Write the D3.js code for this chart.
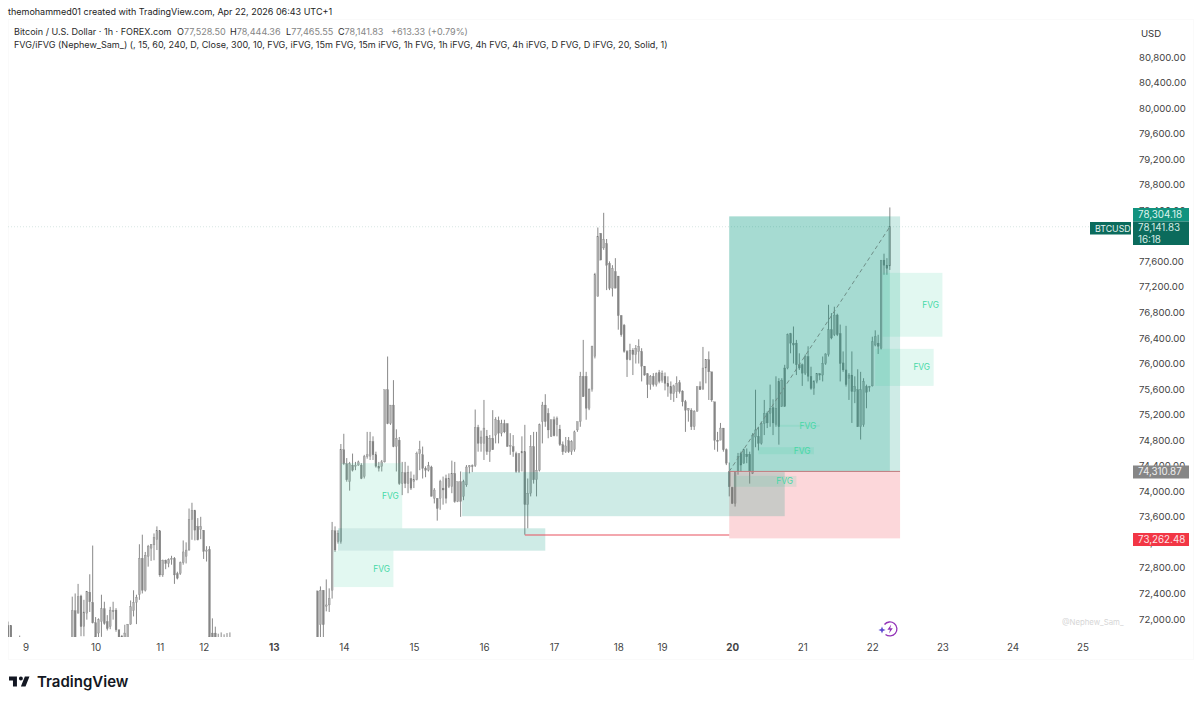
<![CDATA[<!DOCTYPE html>
<html>
<head>
<meta charset="utf-8">
<script src="https://cdn.jsdelivr.net/npm/d3@7"></script>
<style>
  html, body { margin: 0; padding: 0; background: #fff; }
  svg { display: block; }
  text { font-family: Inter, "Noto Sans", sans-serif; }
</style>
</head>
<body>
<div id="chart"></div>
<script>
// bar numbers: hourly bars, weekends are shorter. Bars under the chart's floor were left out.
const barIndex = [0, 1, 4, ...d3.range(22, 77), ...d3.range(106, 303)];

const opens = [
  71900,71900,71600,
  // 22
  71500,72130,72090,72360,71880,72090,72420,72260,71940,71780,
  71960,72160,71960,71880,72130,72140,71830,71730,71550,71600,
  71920,72130,72260,72380,72950,72450,72980,73110,73160,73240,
  73380,72690,72920,72870,72930,72950,72710,72710,72880,72980,
  73080,73560,73700,73450,73400,73390,73060,73090,71780,71780,
  71600,71600,71600,71600,71600,
  // 106
  72440,71910,72450,72200,72220,72450,73380,73210,73210,74650,
  74430,74150,74410,74390,74410,74410,74230,74540,74550,74780,
  74570,74390,74390,74460,75590,75060,75350,74700,74800,74120,
  74290,74120,74200,74150,74180,74590,74570,74360,74330,74380,
  73890,73890,73890,74050,74200,74070,74070,74280,73840,74150,
  73920,74100,74380,74400,74400,75000,74750,74750,74860,74620,
  74830,74880,75110,74910,75060,75060,74700,74700,74590,74310,
  74600,74620,73790,73970,74700,74180,74330,
  // 183
  75090,75350,75220,74860,75120,75040,74970,74730,74620,74790,
  74620,74650,74960,75090,75800,75800,75300,75600,76110,77050,
  78040,77810,77880,77570,77180,77440,77370,76750,76600,76190,
  76060,76210,76140,76190,76190,75960,75840,75670,75800,75670,
  75860,75740,75800,75690,75640,75530,75560,75700,75570,75400,
  75270,75270,75010,75250,75640,75600,75930,76060,75870,75400,
  74800,74800,74990,74650,74310,74060,73810,74310,74590,74440,
  74580,74580,74280,74850,74860,74750,75060,75220,75220,75310,
  75050,75720,75330,75930,75930,76470,76320,76320,75980,75980,
  75850,76110,75800,75610,75720,75840,75820,76000,76140,76530,
  76450,76760,76470,76010,75900,75770,75820,75560,75590,75010,
  75040,75640,75640,75650,76290,76320,76240,77620,77540,77528.5
];

const highs = [
  71960,71900,71740,
  // 22
  72350,72400,72550,72380,72300,72440,72700,73150,72030,72010,
  72380,72270,72060,72190,72270,72170,71830,71750,71910,71920,
  72290,72450,72380,73170,73320,73050,73160,73170,73340,73450,
  73380,72930,72930,72950,72990,72970,72740,72900,73230,73200,
  73730,73820,73710,73580,73600,73390,73140,73140,72010,71880,
  71770,71790,71760,71780,71790,
  // 106
  72440,72510,72450,72620,72480,73520,73450,73390,74740,74900,
  74520,74460,74590,74460,74480,74440,74570,74930,74930,74860,
  74620,74460,74490,75590,76110,75350,75740,74970,74850,74460,
  74460,74400,74310,74260,74620,74790,74700,74390,74460,74400,
  74050,73890,74180,74230,74260,74280,74480,74460,74150,74310,
  74180,74410,74410,74420,75280,75040,74950,75430,74960,74880,
  75270,75160,75170,75120,75120,75060,74910,74880,74620,74590,
  74860,75040,74200,74880,74930,74930,75060,
  // 183
  75400,75520,75300,75120,75170,75170,75040,74780,74850,74850,
  74800,74950,75090,75870,76370,75870,75610,76280,77420,78130,
  78040,78360,77950,77600,77540,77650,77370,76760,76620,76210,
  76310,76240,76290,76380,76240,75960,75850,75820,75850,75860,
  75900,75890,75860,75800,75720,75670,75800,75740,75580,75430,
  75300,75300,75270,75640,75720,76260,76070,76190,75870,75400,
  74930,75070,74990,74670,74450,74070,74310,74600,74620,74670,
  74670,74620,74910,75590,75010,75090,75430,75250,75670,75440,
  75800,75770,75770,75980,76470,76480,76580,76370,76160,76000,
  76140,76270,75950,75740,75850,75850,76110,76160,76920,76790,
  76890,76780,76610,76190,76590,75850,76190,75800,75910,75870,
  75770,75670,75650,76420,76520,76450,77620,77720,77650,78444.36
];

const lows = [
  71500,71500,71500,
  // 22
  71400,71400,72090,71730,71730,71990,72110,71930,71500,71710,
  71720,71910,71820,71840,71990,71800,71500,71500,71500,71500,
  71910,72040,71920,72300,72400,72430,72820,72910,72920,73080,
  72660,72660,72780,72810,72850,72550,72620,72690,72850,72870,
  73070,73240,73230,73230,73250,72940,72900,71500,71500,71500,
  71500,71500,71500,71500,71500,
  // 106
  71400,71500,71500,72120,72110,72320,73050,73180,73180,74410,
  74150,74010,74310,74330,74400,74190,74200,74510,74490,74490,
  74370,74310,74310,74450,75050,75040,74690,74310,74100,73940,
  74050,73970,74020,74050,74170,74330,74200,74220,74310,73920,
  73810,73540,73710,73790,73810,74050,73970,73820,73830,73600,
  73860,74070,74280,74300,74380,74620,74620,74490,74570,74460,
  74650,74750,74750,74860,74910,74700,74570,74540,74290,74290,
  74310,73320,73420,73920,74120,73920,74310,
  // 183
  74750,75010,74830,74850,74860,74860,74710,74570,74600,74600,
  74570,74620,74930,75010,75480,75120,75270,75560,76080,77050,
  77620,77780,77150,77150,77050,77180,76530,76420,76170,75790,
  76050,75820,76000,76000,75720,75810,75460,75590,75640,75640,
  75690,75700,75580,75480,75430,75400,75460,75530,75330,74930,
  75090,74960,74960,75250,75590,75590,75690,75430,75400,74650,
  74620,74800,74620,74410,73920,73800,73760,74260,74310,74430,
  74440,74120,74270,74690,74640,74730,74880,74990,75010,74880,
  75010,74730,75320,75320,75910,76160,76000,75820,75900,75650,
  75820,75720,75590,75510,75690,75740,75720,75980,76110,76380,
  76430,76430,75720,75870,75640,75430,75070,75380,75010,74810,
  75010,75300,75560,75640,76270,76150,76220,77390,77390,77465.55
];

const closes = [
  71600,71600,71650,
  // 22
  72130,71720,72350,71880,72110,72430,72270,71940,71720,71990,
  72160,71930,71850,72140,72120,71830,71720,71550,71780,71920,
  72190,72260,72340,72950,72450,73000,73140,73170,73280,73380,
  72690,72920,72870,72930,72950,72690,72640,72880,73050,73080,
  73560,73700,73390,73240,73450,73060,73080,71720,71650,71600,
  71650,71650,71650,71650,71650,
  // 106
  71500,72450,71910,72220,72320,73380,73080,73340,74650,74430,
  74180,74430,74330,74410,74460,74200,74540,74570,74780,74570,
  74390,74360,74460,75590,75060,75350,74700,74830,74120,74290,
  74120,74300,74050,74180,74590,74650,74360,74330,74400,73920,
  74020,73730,74150,74020,73890,74200,74280,73840,74150,73840,
  74150,74380,74400,74390,75000,74750,74850,74990,74620,74830,
  74650,75120,74910,75060,74930,74700,74720,74620,74310,74590,
  74620,73790,73970,74700,74180,74330,75040,
  // 183
  75350,75090,74960,75120,74870,75140,74730,74620,74710,74620,
  74780,74930,75090,75800,75480,75300,75600,76270,77390,77990,
  77620,77940,77540,77180,77490,77180,76750,76450,76190,76060,
  76210,76140,76240,76270,75960,75820,75670,75800,75670,75840,
  75720,75850,75690,75640,75530,75650,75690,75560,75400,75270,
  75300,75010,75250,75640,75590,75930,76060,75870,75430,74800,
  74780,74990,74650,74440,74070,73810,74310,74550,74410,74650,
  74540,74310,74880,74960,74750,75060,75220,75070,75300,75070,
  75300,75010,75740,75330,76450,76320,76290,75980,75930,75850,
  76110,75800,75610,75720,75840,75820,76000,76150,76530,76400,
  76760,76450,76000,75900,75670,75820,75560,75640,75010,75590,
  75720,75550,75640,76340,76420,76270,77620,77540,77490,78141.83
];

const dayBars = [6, 30, 52, 67, 91, 115, 139, 163, 187, 209, 224, 248, 272, 296, 320, 344, 368];
const dayLabels = ["9", "10", "11", "12", "13", "14", "15", "16", "17", "18", "19", "20", "21", "22", "23", "24", "25"];
const boldDays = ["13", "20"];

const priceTicks = d3.range(72000, 80801, 400);

// FVG zones: first bar, last bar, upper price, lower price
const fvgNames = ["A", "B", "E", "F", "G", "H", "I"];
const fvgStart = [114, 111.5, 248.5, 257, 264, 299.5, 297];
const fvgEnd = [135, 132, 270, 276, 278, 320, 317];
const fvgTop = [74440, 73070, 74240, 74690, 75040, 77420, 76230];
const fvgBottom = [73420, 72500, 74070, 74580, 75010, 76420, 75650];

// iFVG zones, darker teal without a label
const ifvgStart = [113, 155.5];
const ifvgEnd = [184, 266];
const ifvgTop = [73420, 74300];
const ifvgBottom = [73070, 73610];

// long position tool
const positionStart = 247;
const positionEnd = 305.5;
const positionBarNow = 302;
const targetPrice = 78304.18;
const entryPrice = 74310.87;
const stopPrice = 73262.48;
const lastPrice = 78141.83;

// red line from the low on the 16th to the position
const sweepStart = 177;
const sweepPrice = 73315;

const width = 1200;
const height = 704;

const x = d3.scaleLinear().domain([0, 368]).range([8, 1082.56]);
const y = d3.scaleLinear().domain([72000, 80800]).range([619, 57]);

const svg = d3.select("#chart").append("svg")
    .attr("width", width)
    .attr("height", height)
    .attr("viewBox", [0, 0, width, height]);

svg.append("defs").append("clipPath")
    .attr("id", "plot-clip")
  .append("rect")
    .attr("x", 8)
    .attr("y", 20)
    .attr("width", 1124)
    .attr("height", 617);

// faint panel frame
svg.append("rect")
    .attr("x", 8.5)
    .attr("y", 19.5)
    .attr("width", 1185)
    .attr("height", 640)
    .attr("fill", "none")
    .attr("stroke", "#fafafa");

const plot = svg.append("g").attr("clip-path", "url(#plot-clip)");

// last price line
plot.append("line")
    .attr("x1", 8)
    .attr("x2", 1132)
    .attr("y1", y(lastPrice))
    .attr("y2", y(lastPrice))
    .attr("stroke", "#cfe0dc")
    .attr("stroke-width", 0.8)
    .attr("stroke-dasharray", "1 2");

// candles
const bars = barIndex.map((b, i) => ({b, o: opens[i], h: highs[i], l: lows[i], c: closes[i]}));

plot.append("g").selectAll("line")
  .data(bars)
  .join("line")
    .attr("x1", d => x(d.b))
    .attr("x2", d => x(d.b))
    .attr("y1", d => y(d.h))
    .attr("y2", d => y(d.l))
    .attr("stroke", "#7c7c7c")
    .attr("stroke-width", 0.9);

plot.append("g").selectAll("rect")
  .data(bars)
  .join("rect")
    .attr("x", d => x(d.b) - 0.95)
    .attr("width", 1.9)
    .attr("y", d => y(Math.max(d.o, d.c)))
    .attr("height", d => Math.max(0.8, Math.abs(y(d.o) - y(d.c))))
    .attr("fill", d => d.c >= d.o ? "#adadad" : "#858585")
    .attr("stroke", "#777")
    .attr("stroke-width", 0.25);

// position tool
function zone(parent, x0, x1, top, bottom, fill, opacity) {
  parent.append("rect")
      .attr("x", x(x0))
      .attr("width", x(x1) - x(x0))
      .attr("y", y(top))
      .attr("height", y(bottom) - y(top))
      .attr("fill", fill)
      .attr("fill-opacity", opacity);
}

zone(plot, positionStart, positionEnd, targetPrice, entryPrice, "#089981", 0.2);
zone(plot, positionStart, positionBarNow, targetPrice, entryPrice, "#089981", 0.2);
zone(plot, positionStart, positionEnd, entryPrice, stopPrice, "#f23645", 0.2);

plot.append("line")
    .attr("x1", x(positionStart))
    .attr("x2", x(positionEnd))
    .attr("y1", y(entryPrice))
    .attr("y2", y(entryPrice))
    .attr("stroke", "#c07a7e")
    .attr("stroke-width", 1);

plot.append("line")
    .attr("x1", x(positionStart))
    .attr("x2", x(positionBarNow))
    .attr("y1", y(entryPrice))
    .attr("y2", y(lastPrice))
    .attr("stroke", "#6f8f88")
    .attr("stroke-width", 1)
    .attr("stroke-dasharray", "4 3");

// zones
ifvgStart.forEach((s, i) => zone(plot, s, ifvgEnd[i], ifvgTop[i], ifvgBottom[i], "#089981", 0.2));
fvgNames.forEach((n, i) => zone(plot, fvgStart[i], fvgEnd[i], fvgTop[i], fvgBottom[i], "#3cd2a0", 0.15));

plot.append("g").selectAll("text")
  .data(fvgNames)
  .join("text")
    .attr("x", (d, i) => x(fvgEnd[i]) - 3.5)
    .attr("y", (d, i) => y((fvgTop[i] + fvgBottom[i]) / 2))
    .attr("dy", "0.35em")
    .attr("text-anchor", "end")
    .attr("font-size", 8.4)
    .attr("fill", "#45d8a6")
    .text("FVG");

plot.append("line")
    .attr("x1", x(sweepStart))
    .attr("x2", x(positionStart))
    .attr("y1", y(sweepPrice))
    .attr("y2", y(sweepPrice))
    .attr("stroke", "#e8505e")
    .attr("stroke-width", 1.2);

// axes
const priceAxis = svg.append("g")
    .attr("transform", "translate(1139,0)")
    .call(d3.axisRight(y)
      .tickValues(priceTicks)
      .tickSize(0)
      .tickPadding(0)
      .tickFormat(d3.format(",.2f")));
priceAxis.select(".domain").remove();
priceAxis.selectAll("text")
    .attr("font-family", null)
    .attr("font-size", 9.6)
    .attr("fill", "#444");

const dayAxis = svg.append("g")
    .attr("transform", "translate(0,644.5)")
    .call(d3.axisBottom(x)
      .tickValues(dayBars)
      .tickSize(0)
      .tickPadding(0)
      .tickFormat((d, i) => dayLabels[i]));
dayAxis.select(".domain").remove();
dayAxis.selectAll("text")
    .attr("font-family", null)
    .attr("font-size", 9.8)
    .attr("fill", "#444")
    .attr("font-weight", (d, i) => boldDays.includes(dayLabels[i]) ? 700 : 400);

svg.append("text")
    .attr("x", 1151)
    .attr("y", 36.5)
    .attr("text-anchor", "middle")
    .attr("font-size", 9.6)
    .attr("fill", "#333")
    .text("USD");

// price tags
function tag(px, tagY, w, h, fill, lines, textFill, size) {
  svg.append("rect")
      .attr("x", px)
      .attr("y", tagY)
      .attr("width", w)
      .attr("height", h)
      .attr("fill", fill);
  lines.forEach((t, i) => {
    svg.append("text")
        .attr("x", px + 5)
        .attr("y", tagY + 9.8 + i * 11.4)
        .attr("font-size", size)
        .attr("fill", textFill)
        .text(t);
  });
}

tag(1133, 208, 56, 13.5, "#12937f", ["78,304.18"], "#dff3ee", 9.8);
tag(1133, 221.5, 56, 23.5, "#0b6b5c", ["78,141.83", "16:18"], "#d5ebe5", 9.8);
tag(1090, 222, 41, 12.5, "#0b6b5c", ["BTCUSD"], "#e3f1ee", 8.8);
tag(1133, 465.5, 56, 13, "#868686", ["74,310.87"], "#efefef", 9.8);
tag(1133, 533, 56, 13, "#f23645", ["73,262.48"], "#fde3e5", 9.8);

// header
svg.append("text")
    .attr("x", 8)
    .attr("y", 15)
    .attr("font-size", 9)
    .attr("fill", "#222")
    .text("themohammed01 created with TradingView.com, Apr 22, 2026 06:43 UTC+1");

const legend = svg.append("g").attr("font-size", 9.05).attr("fill", "#2a2a2a");

legend.append("text")
    .attr("x", 14)
    .attr("y", 35)
    .text("Bitcoin / U.S. Dollar · 1h · FOREX.com");

const ohlcKeys = ["O", "H", "L", "C"];
const ohlcValues = ["77,528.50", "78,444.36", "77,465.55", "78,141.83"];
const ohlcLeft = [177, 230, 286, 338];

ohlcKeys.forEach((k, i) => {
  const t = legend.append("text")
      .attr("x", ohlcLeft[i])
      .attr("y", 35)
      .text(k);
  t.append("tspan").attr("fill", "#858585").text(ohlcValues[i]);
});

legend.append("text")
    .attr("x", 391)
    .attr("y", 35)
    .attr("fill", "#858585")
    .text("+613.33 (+0.79%)");

legend.append("text")
    .attr("x", 14)
    .attr("y", 48)
    .text("FVG/iFVG (Nephew_Sam_) (, 15, 60, 240, D, Close, 300, 10, FVG, iFVG, 15m FVG, 15m iFVG, 1h FVG, 1h iFVG, 4h FVG, 4h iFVG, D FVG, D iFVG, 20, Solid, 1)");

// watermark and spark icon
svg.append("text")
    .attr("x", 1062)
    .attr("y", 625)
    .attr("font-size", 7.8)
    .attr("fill", "#d6d6d6")
    .text("@Nephew_Sam_");

const spark = svg.append("g").attr("transform", "translate(890,629)");
spark.append("path")
    .attr("d", "M-5.5 -4.5A7 7 0 1 1 -4.5 5.4")
    .attr("fill", "none")
    .attr("stroke", "#9333b8")
    .attr("stroke-width", 1.3);
spark.append("path")
    .attr("d", "M1.2 -4.5L-2.6 0.8H0L-1 4.5L2.8 -0.8H0.2Z")
    .attr("fill", "#9333b8");
spark.append("path")
    .attr("d", "M-8 -2.6L-7 0L-4.4 1L-7 2L-8 4.6L-9 2L-11.6 1L-9 0Z")
    .attr("fill", "#5f4bd0");

// TradingView logo
svg.append("path")
    .attr("transform", "translate(7.7,672.6) scale(0.66)")
    .attr("d", "M14 6H2v6h6v9h6V6zm13 15h-7l6-15h7l-6 15zm-7-9a3 3 0 1 0 0-6 3 3 0 0 0 0 6z")
    .attr("fill", "#131722");

svg.append("text")
    .attr("x", 37)
    .attr("y", 687)
    .attr("font-size", 15)
    .attr("font-weight", 600)
    .attr("fill", "#131722")
    .text("TradingView");
</script>
</body>
</html>
]]>
